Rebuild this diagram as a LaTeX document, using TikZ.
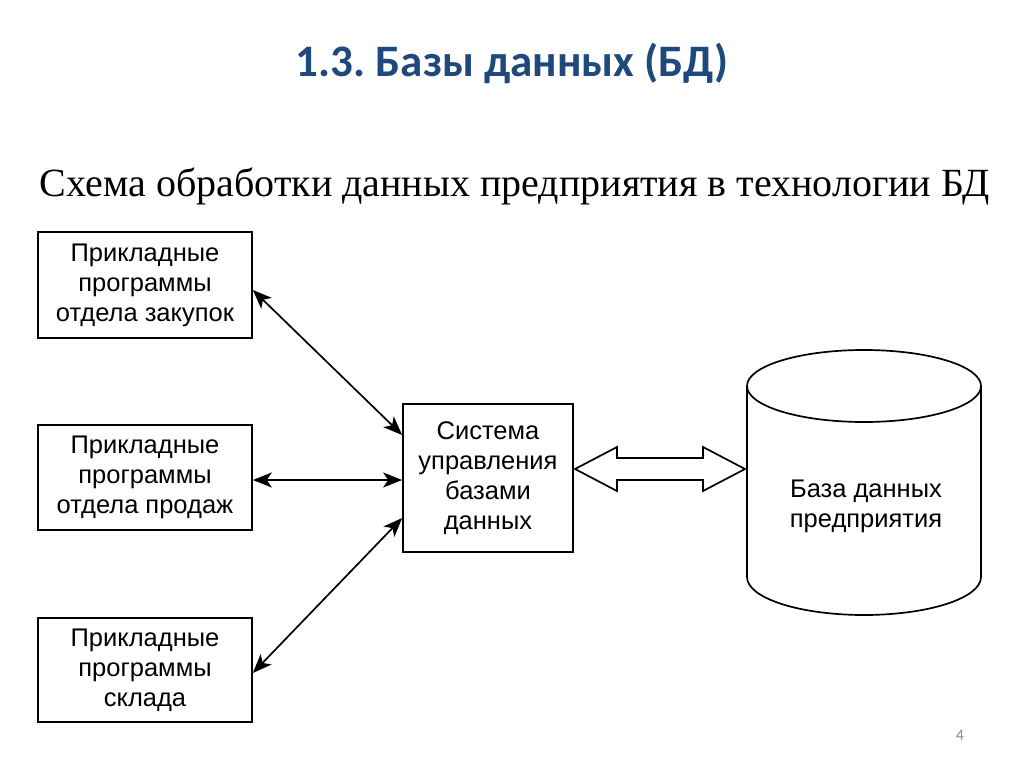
\documentclass[tikz,border=0pt]{standalone}
\usepackage{fontspec}
\setmainfont{Liberation Sans}
\newfontfamily\titlefont{Carlito}
\newfontfamily\subfont{Liberation Serif}
\usetikzlibrary{arrows.meta}
\definecolor{titleblue}{HTML}{1F497D}
\frenchspacing
\begin{document}
\begin{tikzpicture}[x=1pt,y=-1pt,
  box/.style={draw=black, line width=1.7pt, rectangle, inner sep=0pt, align=center,
    font=\fontsize{25.5}{30}\selectfont},
  link/.style={line width=1.7pt, {Stealth[length=19pt,width=15pt,inset=5pt]}-{Stealth[length=19pt,width=15pt,inset=5pt]}},
  shape line/.style={line width=1.7pt, line join=round}]
\useasboundingbox (0,0) rectangle (1024,767);
\fill[white] (0,0) rectangle (1024,767);
\node[anchor=base, text=titleblue, font=\titlefont\bfseries\fontsize{45}{50}\selectfont] (title) at (512,77) {1.3. Базы данных (БД)};
\node[anchor=base, font=\subfont\fontsize{40}{46}\selectfont] (sub) at (515,197) {Схема обработки данных предприятия в технологии БД};
\node[box, minimum width=214pt, minimum height=106pt] (b1) at (145,285) {Прикладные\\программы\\отдела закупок};
\node[box, minimum width=214pt, minimum height=105pt] (b2) at (145,477.5) {Прикладные\\программы\\отдела продаж};
\node[box, minimum width=214pt, minimum height=104pt] (b3) at (145,670) {Прикладные\\программы\\склада};
\node[box, minimum width=170pt, minimum height=148pt] (dbms) at (488,478) {Система\\управления\\базами\\данных};
% cylinder
\draw[shape line] (864,386) ellipse [x radius=117, y radius=36];
\draw[shape line] (747,386) -- (747,577) arc[start angle=180, end angle=0, x radius=117, y radius=38] -- (981,386);
\node[align=center, font=\fontsize{25.5}{30}\selectfont] (db) at (866,506) {База данных\\предприятия};
% connectors
\draw[link] ([yshift=-5pt]b1.east) -- ([yshift=43pt]dbms.west);
\draw[link] ([yshift=-2.5pt]b2.east) -- ([yshift=-2pt]dbms.west);
\draw[link] ([yshift=-3pt]b3.east) -- ([yshift=-40pt]dbms.west);
% hollow double arrow
\draw[shape line, line join=miter] (575,469) -- (617,447) -- (617,458) -- (703,458) -- (703,447) -- (745,469) -- (703,491) -- (703,480) -- (617,480) -- (617,491) -- cycle;
\node[text=black!45, font=\titlefont\fontsize{16}{18}\selectfont] (pg) at (960,735) {4};
\end{tikzpicture}
\end{document}
